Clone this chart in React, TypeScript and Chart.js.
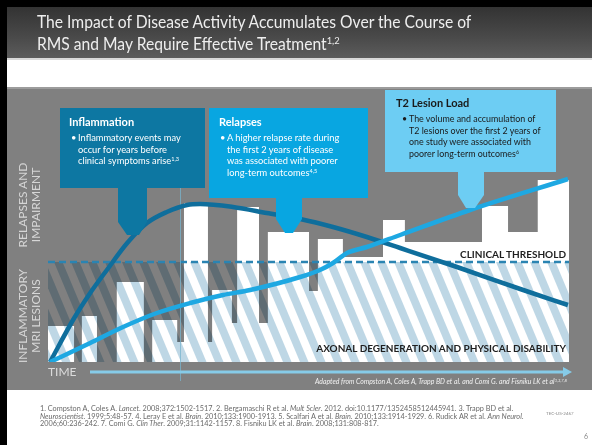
import React, { useEffect, useRef } from "react";
import { Chart, registerables } from "chart.js";

Chart.register(...registerables);

// Time runs 0–100 across the plot; level runs 0–100 with the clinical threshold at 50.
const thresholdLevel = 50;
const twoYearMark = 25.3;

// Outline of the accumulated MRI lesion activity (each level holds until the next time)
const lesionStepTimes = [0, 5.0, 6.5, 9.4, 13.2, 18.4, 20.0, 24.8, 26.1, 30.7, 31.5, 35.3, 36.3, 40.5, 42.2, 50.1, 51.8, 56.6, 64.3, 68.5, 83.3, 88.3, 94.0, 100];
const lesionStepLevels = [18, 0, 23, 0, 40, 0, 21, 10, 79.5, 10, 36, 19.5, 77.5, 19.5, 65, 35.5, 61.5, 52.5, 71, 60, 78, 65, 91, 91];

// Inflammation / relapse curve: rises early, peaks, then declines
const inflammationTimes = [0.4, 4.8, 8.1, 11.3, 15.2, 19.0, 22.8, 26.7, 29.2, 35.5, 42.0, 48.4, 54.7, 61.2, 67.6, 78.5, 91.2, 99.8];
const inflammationLevels = [0, 21, 34.5, 46, 59.5, 69.5, 75, 78.5, 79, 77.5, 74.5, 71.5, 67.5, 62.5, 57, 47.5, 36, 28.5];

// Axonal degeneration / disability curve: rises steadily, crossing the threshold
const disabilityTimes = [0.4, 8.1, 14.4, 20.9, 27.3, 33.6, 38.8, 48.4, 52.2, 54.7, 57.4, 61.2, 67.6, 81.0, 99.8];
const disabilityLevels = [0, 9.5, 17.5, 24.5, 29.5, 33.5, 36, 42.5, 46, 49.5, 54.5, 57.5, 63.5, 76, 91.5];

const toPoints = (xs: number[], ys: number[]) => xs.map((x, i) => ({ x, y: ys[i] }));

const W = 592;
const H = 445;

type Callout = { color: string; x0: number; y0: number; x1: number; y1: number; s0: number; s1: number; neck: number; tip: number; t0: number; t1: number };

const callouts: Callout[] = [
  { color: "#0d77a2", x0: 60, y0: 108, x1: 205, y1: 188, s0: 118, s1: 147, neck: 222, tip: 235, t0: 127, t1: 139 },
  { color: "#08a6e1", x0: 209, y0: 108, x1: 368, y1: 198, s0: 276, s1: 302, neck: 219, tip: 233, t0: 285, t1: 293 },
  { color: "#6dcdf3", x0: 385, y0: 90, x1: 556, y1: 172, s0: 458, s1: 484, neck: 195, tip: 208, t0: 466, t1: 475 },
];

const slidePlugin = {
  id: "slide",
  beforeDraw(chart: any) {
    const ctx = chart.ctx;
    ctx.save();
    ctx.fillStyle = "#ffffff";
    ctx.fillRect(0, 0, W, H);
    ctx.fillStyle = "#000000";
    ctx.fillRect(0, 0, 7, H);
    ctx.fillRect(0, 0, W, 7);
    const g = ctx.createLinearGradient(0, 7, 0, 58);
    g.addColorStop(0, "#333333");
    g.addColorStop(0.6, "#4a4a4a");
    g.addColorStop(1, "#5c5c5c");
    ctx.fillStyle = g;
    ctx.fillRect(7, 7, W - 7, 51);
    ctx.fillStyle = "#d9d9d9";
    ctx.fillRect(7, 58, W - 7, 2);
    ctx.fillStyle = "#9c9c9c";
    ctx.fillRect(7, 87, W - 7, 2);
    ctx.fillStyle = "#808080";
    ctx.fillRect(7, 89, W - 7, 301);
    ctx.restore();
  },
  afterDatasetDraw(chart: any, args: any) {
    if (args.index !== 0) return;
    const ctx = chart.ctx;
    const { left, right, bottom } = chart.chartArea;
    const xs = chart.scales.x;
    const ys = chart.scales.y;
    const yT = ys.getPixelForValue(thresholdLevel);

    // hatched band below the clinical threshold
    ctx.save();
    ctx.beginPath();
    ctx.rect(left, yT, right - left, bottom - yT);
    ctx.clip();
    ctx.globalCompositeOperation = "multiply";
    ctx.fillStyle = "#bed7e5";
    const h = bottom - yT;
    const slant = h * 0.42;
    for (let x0 = left - slant - 20; x0 < right + 20; x0 += 17) {
      ctx.beginPath();
      ctx.moveTo(x0, yT);
      ctx.lineTo(x0 + 8.5, yT);
      ctx.lineTo(x0 + 8.5 + slant, bottom);
      ctx.lineTo(x0 + slant, bottom);
      ctx.closePath();
      ctx.fill();
    }
    ctx.restore();

    // clinical threshold
    ctx.save();
    ctx.strokeStyle = "#2a84b2";
    ctx.lineWidth = 2.5;
    ctx.setLineDash([7, 4]);
    ctx.beginPath();
    ctx.moveTo(left, yT);
    ctx.lineTo(right, yT);
    ctx.stroke();
    ctx.restore();

    // two-year marker
    const xm = Math.round(xs.getPixelForValue(twoYearMark)) + 0.5;
    ctx.save();
    ctx.strokeStyle = "rgba(120,180,205,0.75)";
    ctx.lineWidth = 1;
    ctx.beginPath();
    ctx.moveTo(xm, 188);
    ctx.lineTo(xm, bottom + 19);
    ctx.stroke();
    ctx.restore();

    // time arrow
    const ya = bottom + 10;
    ctx.save();
    ctx.strokeStyle = "#86cbe8";
    ctx.fillStyle = "#86cbe8";
    ctx.lineWidth = 3;
    ctx.beginPath();
    ctx.moveTo(90, ya);
    ctx.lineTo(right - 5, ya);
    ctx.stroke();
    ctx.beginPath();
    ctx.moveTo(right - 6, ya - 5);
    ctx.lineTo(right + 3, ya);
    ctx.lineTo(right - 6, ya + 5);
    ctx.closePath();
    ctx.fill();
    ctx.restore();
  },
  afterDatasetsDraw(chart: any) {
    const ctx = chart.ctx;
    ctx.save();
    for (const c of callouts) {
      ctx.fillStyle = c.color;
      ctx.fillRect(c.x0, c.y0, c.x1 - c.x0, c.y1 - c.y0);
      ctx.beginPath();
      ctx.moveTo(c.s0, c.y1 - 1);
      ctx.lineTo(c.s1, c.y1 - 1);
      ctx.lineTo(c.s1, c.neck);
      ctx.lineTo(c.t1, c.tip);
      ctx.lineTo(c.t0, c.tip);
      ctx.lineTo(c.s0, c.neck);
      ctx.closePath();
      ctx.fill();
    }
    ctx.restore();
  },
};

const sup: React.CSSProperties = { fontSize: "0.6em", verticalAlign: "0.55em", lineHeight: 0 };

const abs = (s: React.CSSProperties): React.CSSProperties => ({ position: "absolute", margin: 0, whiteSpace: "nowrap", ...s });

function Bullet({ left, top, color, size, lines }: { left: number; top: number; color: string; size: number; lines: React.ReactNode[] }) {
  return (
    <div style={abs({ left, top, color, fontSize: size, lineHeight: "11.7px" })}>
      <span style={{ position: "absolute", left: -7, top: 0 }}>•</span>
      {lines.map((l, i) => (
        <div key={i}>{l}</div>
      ))}
    </div>
  );
}

export default function App() {
  const ref = useRef<HTMLCanvasElement | null>(null);

  useEffect(() => {
    if (!ref.current) return;
    const chart = new Chart(ref.current, {
      type: "line",
      data: {
        datasets: [
          {
            label: "MRI lesion activity",
            data: toPoints(lesionStepTimes, lesionStepLevels),
            stepped: "before",
            fill: "origin",
            backgroundColor: "#ffffff",
            borderWidth: 0,
            borderColor: "rgba(0,0,0,0)",
            pointRadius: 0,
            order: 3,
          },
          {
            label: "Relapses and impairment",
            data: toPoints(inflammationTimes, inflammationLevels),
            borderColor: "#0f6e9c",
            borderWidth: 4.5,
            cubicInterpolationMode: "monotone",
            fill: false,
            pointRadius: 0,
            order: 2,
          },
          {
            label: "T2 lesion load",
            data: toPoints(disabilityTimes, disabilityLevels),
            borderColor: "#1ea8e2",
            borderWidth: 4.5,
            cubicInterpolationMode: "monotone",
            fill: false,
            pointRadius: 0,
            order: 1,
          },
        ],
      },
      options: {
        responsive: false,
        animation: false,
        layout: { padding: { left: 48, right: 23, top: 162, bottom: 83 } },
        scales: {
          x: { type: "linear", min: 0, max: 100, display: false },
          y: { type: "linear", min: 0, max: 100, display: false },
        },
        plugins: { legend: { display: false }, tooltip: { enabled: false } },
      },
      plugins: [slidePlugin],
    } as any);
    return () => chart.destroy();
  }, []);

  const font = "Lato, 'Open Sans', sans-serif";

  return (
    <div style={{ position: "fixed", left: 0, top: 0, width: W, height: H, overflow: "hidden", fontFamily: font }}>
      <canvas ref={ref} width={W} height={H} style={{ position: "absolute", left: 0, top: 0 }} />

      <div
        style={abs({
          left: 37,
          top: 11,
          color: "#eeeeee",
          fontSize: 17,
          lineHeight: "22px",
          transform: "scaleX(0.92)",
          transformOrigin: "0 0",
        })}
      >
        <div>The Impact of Disease Activity Accumulates Over the Course of</div>
        <div>
          RMS and May Require Effective Treatment<span style={sup}>1,2</span>
        </div>
      </div>

      <div style={abs({ left: 69, top: 115, color: "#ffffff", fontSize: 11, fontWeight: 700 })}>Inflammation</div>
      <Bullet
        left={78}
        top={132}
        color="#ffffff"
        size={9.3}
        lines={[
          "Inflammatory events may",
          "occur for years before",
          <span>
            clinical symptoms arise<span style={sup}>1,3</span>
          </span>,
        ]}
      />

      <div style={abs({ left: 219, top: 115, color: "#ffffff", fontSize: 11, fontWeight: 700 })}>Relapses</div>
      <Bullet
        left={227}
        top={132}
        color="#ffffff"
        size={9.3}
        lines={[
          "A higher relapse rate during",
          "the first 2 years of disease",
          "was associated with poorer",
          <span>
            long-term outcomes<span style={sup}>4,5</span>
          </span>,
        ]}
      />

      <div style={abs({ left: 396, top: 96, color: "#1a1a1a", fontSize: 11, fontWeight: 700 })}>T2 Lesion Load</div>
      <Bullet
        left={409}
        top={113}
        color="#1a1a1a"
        size={8.9}
        lines={[
          "The volume and accumulation of",
          "T2 lesions over the first 2 years of",
          "one study were associated with",
          <span>
            poorer long-term outcomes<span style={sup}>6</span>
          </span>,
        ]}
      />

      <div
        style={abs({
          left: 28.5 - 60,
          top: 205 - 13,
          width: 120,
          height: 26,
          lineHeight: "13px",
          fontSize: 12,
          textAlign: "center",
          color: "#d6d6d6",
          transform: "rotate(-90deg)",
        })}
      >
        <div>RELAPSES AND</div>
        <div>IMPAIRMENT</div>
      </div>
      <div
        style={abs({
          left: 28.5 - 60,
          top: 316 - 13,
          width: 120,
          height: 26,
          lineHeight: "13px",
          fontSize: 12,
          textAlign: "center",
          color: "#d6d6d6",
          transform: "rotate(-90deg)",
        })}
      >
        <div>INFLAMMATORY</div>
        <div>MRI LESIONS</div>
      </div>

      <div style={abs({ right: W - 566, top: 248, color: "#1e1e1e", fontSize: 10, fontWeight: 700, lineHeight: "12px" })}>
        CLINICAL THRESHOLD
      </div>
      <div style={abs({ right: W - 566, top: 342, color: "#1e1e1e", fontSize: 10, fontWeight: 700, lineHeight: "12px" })}>
        AXONAL DEGENERATION AND PHYSICAL DISABILITY
      </div>

      <div style={abs({ left: 48, top: 365, color: "#dcdcdc", fontSize: 12, lineHeight: "14px" })}>TIME</div>

      <div style={abs({ right: W - 567, top: 377, color: "#f2f2f2", fontSize: 6.9, fontStyle: "italic", lineHeight: "9px" })}>
        Adapted from Compston A, Coles A, Trapp BD et al. and Comi G. and Fisniku LK et al<span style={sup}>1,3,7,8</span>
      </div>

      <div style={abs({ left: 40, top: 405, color: "#6a6a6a", fontSize: 7.3, lineHeight: "7.6px" })}>
        <div>
          1. Compston A, Coles A. <i>Lancet</i>. 2008;372:1502-1517. 2. Bergamaschi R et al. <i>Mult Scler</i>. 2012. doi:10.1177/1352458512445941. 3. Trapp BD et al.
        </div>
        <div>
          <i>Neuroscientist</i>. 1999;5:48-57. 4. Leray E et al. <i>Brain</i>. 2010;133:1900-1913. 5. Scalfari A et al. <i>Brain</i>. 2010;133:1914-1929. 6. Rudick AR et al. <i>Ann Neurol</i>.
        </div>
        <div>
          2006;60:236-242. 7. Comi G. <i>Clin Ther</i>. 2009;31:1142-1157. 8. Fisniku LK et al. <i>Brain</i>. 2008;131:808-817.
        </div>
      </div>
      <div style={abs({ left: 546, top: 411, color: "#8a8a8a", fontSize: 4.5, lineHeight: "6px" })}>TEC-US-2467</div>
      <div style={abs({ left: 584, top: 432, color: "#8a8a8a", fontSize: 7, lineHeight: "8px" })}>6</div>
    </div>
  );
}
